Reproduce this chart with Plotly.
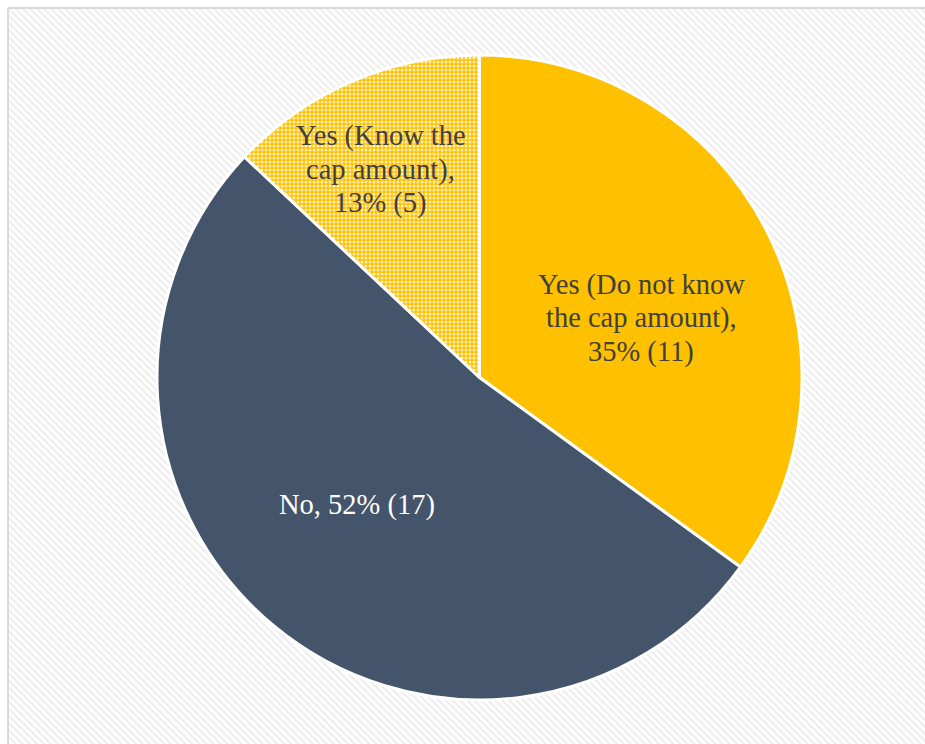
import math
import plotly.graph_objects as go

# Survey responses: share of respondents and head count per answer
labels = ["Yes (Do not know the cap amount)", "No", "Yes (Know the cap amount)"]
label_lines = [
    ["Yes (Do not know", "the cap amount),"],
    ["No,"],
    ["Yes (Know the", "cap amount),"],
]
percents = [35, 52, 13]
counts = [11, 17, 5]

W, H = 925, 744
GOLD = "#FFC000"
SLATE = "#44546A"
SERIF = "Times New Roman, Liberation Serif, serif"

# pie geometry in pixels
CX, CY, R = 479.5, 377.5, 322.5

fig = go.Figure()

# hatched chart-area background (a single bar filling its own axes)
fig.add_trace(go.Bar(
    x=[0], y=[1], width=[1],
    marker=dict(color="white", line=dict(width=0),
                pattern=dict(shape="\\", size=5, solidity=0.45,
                             fgcolor="#dcdcdc", bgcolor="white")),
    hoverinfo="skip", showlegend=False,
))

fig.add_trace(go.Pie(
    labels=labels,
    values=percents,
    sort=False,
    direction="clockwise",
    rotation=0,
    textinfo="none",
    hoverinfo="label+percent",
    showlegend=False,
    marker=dict(
        colors=[GOLD, SLATE, GOLD],
        line=dict(color="white", width=3),
        pattern=dict(shape=["", "", "."], size=4, solidity=0.45,
                     fgcolor=[GOLD, SLATE, "#FFF0C0"],
                     bgcolor=[GOLD, SLATE, GOLD],
                     fillmode="replace"),
    ),
    domain=dict(x=[(CX - R) / W, (CX + R) / W],
                y=[1 - (CY + R) / H, 1 - (CY - R) / H]),
))

# data labels placed along each slice's mid-angle, one annotation per line
label_radius = [0.534, 0.548, 0.713]
angle_nudge = [6.8, 4.3, -2.1]
label_colors = ["#404040", "white", "#404040"]
LINE_STEP = 33.5
total = sum(percents)
cum = 0.0
for i, p in enumerate(percents):
    mid = (cum + p / 2) / total * 360 + angle_nudge[i]
    cum += p
    rad = math.radians(mid)
    px = CX + R * label_radius[i] * math.sin(rad)
    py = CY - R * label_radius[i] * math.cos(rad)
    value_text = f"{p}% ({counts[i]})"
    if len(label_lines[i]) == 1:
        lines = [f"{label_lines[i][0]} {value_text}"]
    else:
        lines = label_lines[i] + [value_text]
    n = len(lines)
    for k, line in enumerate(lines):
        ly = py + (k - (n - 1) / 2) * LINE_STEP
        fig.add_annotation(
            x=px / W, y=1 - ly / H, xref="paper", yref="paper",
            xanchor="center", yanchor="middle",
            text=line, showarrow=False, align="center",
            font=dict(family=SERIF, size=28.5, color=label_colors[i]),
        )

# light frame along the top and left edges of the chart area
fig.add_shape(type="line", xref="paper", yref="paper",
              x0=8 / W, x1=1, y0=1 - 8 / H, y1=1 - 8 / H,
              line=dict(color="#d9d9d9", width=2))
fig.add_shape(type="line", xref="paper", yref="paper",
              x0=8 / W, x1=8 / W, y0=0, y1=1 - 8 / H,
              line=dict(color="#d9d9d9", width=2))

fig.update_layout(
    width=W, height=H,
    margin=dict(l=0, r=0, t=0, b=0),
    paper_bgcolor="white",
    plot_bgcolor="white",
    bargap=0,
    font=dict(family=SERIF),
    xaxis=dict(domain=[9 / W, 1], range=[-0.5, 0.5], visible=False, fixedrange=True),
    yaxis=dict(domain=[0, 1 - 9 / H], range=[0, 1], visible=False, fixedrange=True),
)

fig.write_html("out.html")
